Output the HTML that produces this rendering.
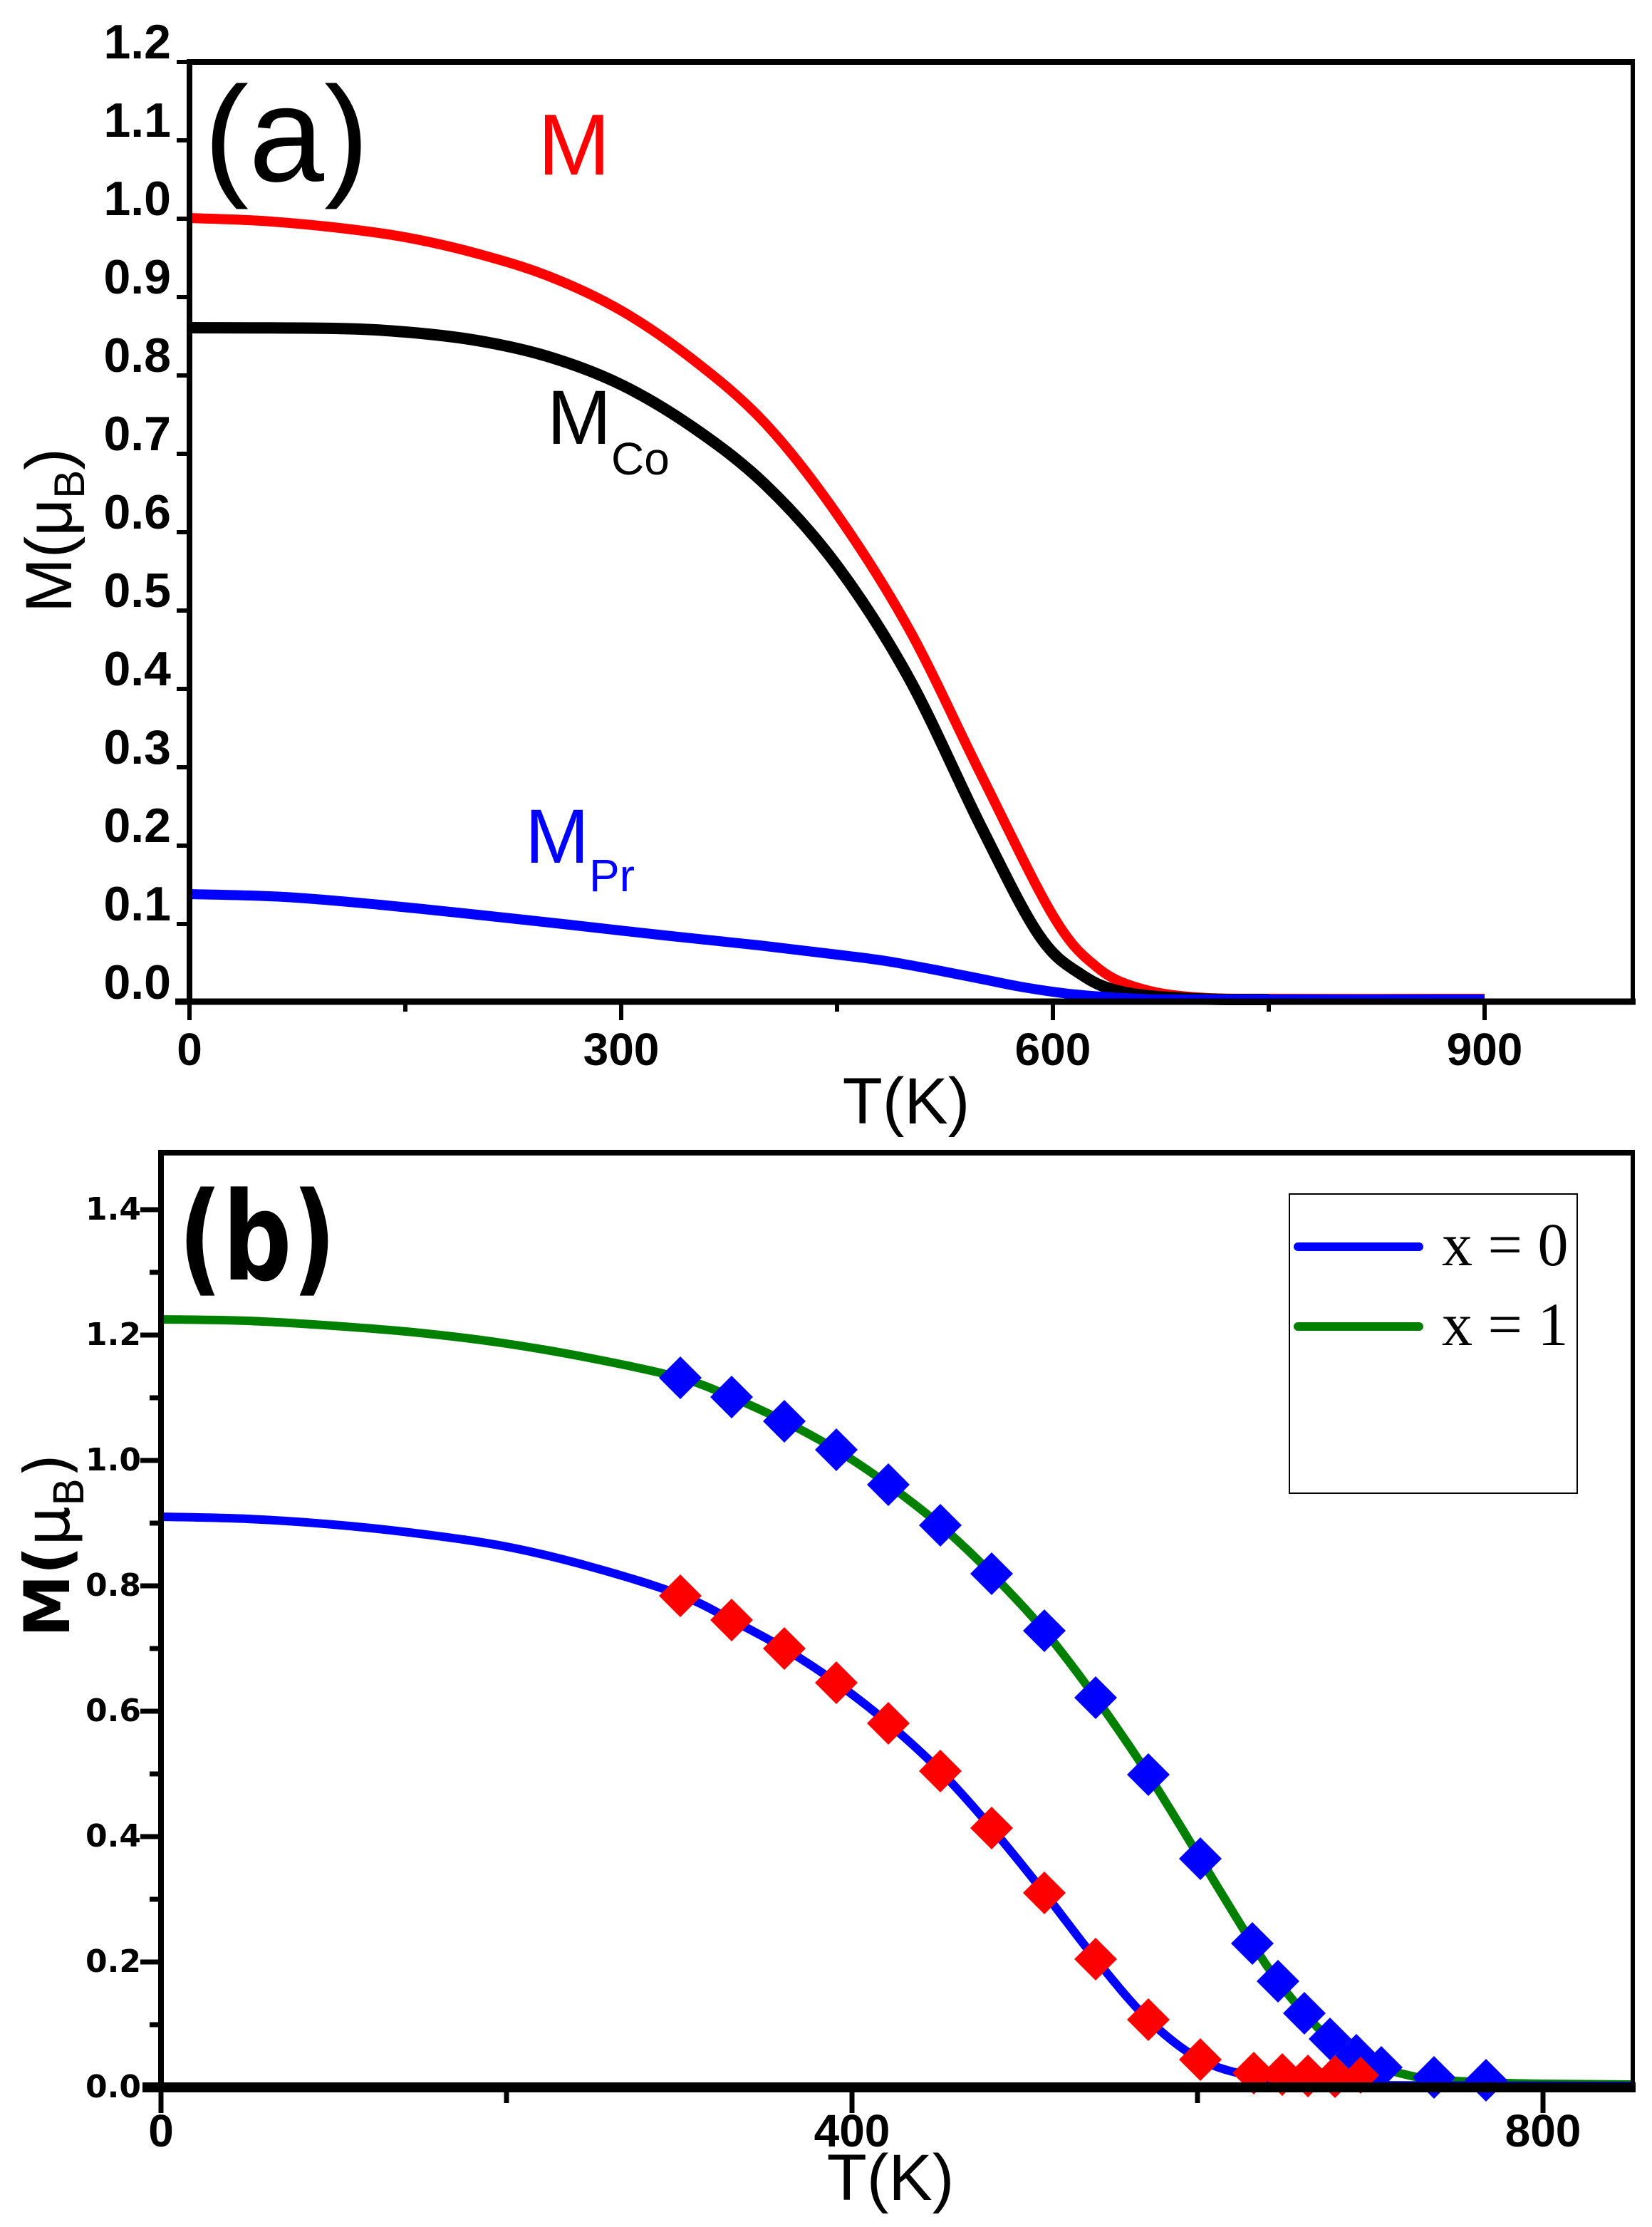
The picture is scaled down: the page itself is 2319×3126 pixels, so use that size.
<!DOCTYPE html>
<html><head><meta charset="utf-8"><style>
html,body{margin:0;padding:0;background:#fff}
svg{display:block}
</style></head><body>
<svg id="sv" width="2319" height="3126" viewBox="0 0 2319 3126" xmlns="http://www.w3.org/2000/svg">
<rect width="2319" height="3126" fill="#fff"/>
<!-- Panel (a) -->
<g fill="none" stroke-linejoin="round">
<polyline class="smooth" stroke="#ff0000" stroke-width="14" points="266,306 367,310 468,319 569,333 670,356 771,388 872,436 973,505 1074,594 1175,722 1276,883 1377,1087 1478,1285 1539,1357 1599,1387 1680,1400 1801,1402 2084,1402"/>
<polyline class="smooth" stroke="#000" stroke-width="16" points="266,460 468,461 569,466 670,478 771,501 872,540 973,600 1074,680 1175,794 1276,952 1377,1160 1458,1312 1518,1368 1579,1393 1680,1402 1781,1403"/>
<polyline class="smooth" stroke="#0000ff" stroke-width="14" points="266,1255 399,1259 533,1270 670,1284 799,1298 933,1313 1066,1327 1175,1340 1244,1349 1316,1362 1377,1374 1438,1386 1510,1396 1599,1402 1680,1403 2084,1403"/>
</g>
<g stroke="#000" fill="none">
<line x1="266" y1="87" x2="2292" y2="87" stroke-width="8"/>
<line x1="266" y1="83" x2="266" y2="1410" stroke-width="8"/>
<line x1="2292" y1="83" x2="2292" y2="1410" stroke-width="6"/>
<line x1="246" y1="1406" x2="2296" y2="1406" stroke-width="9"/>
<g stroke-width="6">
<line x1="248" y1="87" x2="266" y2="87"/><line x1="248" y1="197" x2="266" y2="197"/><line x1="248" y1="307" x2="266" y2="307"/><line x1="248" y1="417" x2="266" y2="417"/><line x1="248" y1="527" x2="266" y2="527"/><line x1="248" y1="637" x2="266" y2="637"/><line x1="248" y1="747" x2="266" y2="747"/><line x1="248" y1="857" x2="266" y2="857"/><line x1="248" y1="967" x2="266" y2="967"/><line x1="248" y1="1077" x2="266" y2="1077"/><line x1="248" y1="1187" x2="266" y2="1187"/><line x1="248" y1="1297" x2="266" y2="1297"/>
<line x1="266" y1="1406" x2="266" y2="1432"/><line x1="872" y1="1406" x2="872" y2="1432"/><line x1="1478" y1="1406" x2="1478" y2="1432"/><line x1="2084" y1="1406" x2="2084" y2="1432"/>
<line x1="569" y1="1406" x2="569" y2="1420"/><line x1="1175" y1="1406" x2="1175" y2="1420"/><line x1="1781" y1="1406" x2="1781" y2="1420"/>
</g>
</g>
<g font-family="Liberation Sans, sans-serif" font-weight="bold" font-size="68" text-anchor="end" fill="#000">
<text x="240" y="82">1.2</text><text x="240" y="192">1.1</text><text x="240" y="302">1.0</text><text x="240" y="412">0.9</text><text x="240" y="522">0.8</text><text x="240" y="632">0.7</text><text x="240" y="742">0.6</text><text x="240" y="852">0.5</text><text x="240" y="962">0.4</text><text x="240" y="1072">0.3</text><text x="240" y="1182">0.2</text><text x="240" y="1292">0.1</text><text x="240" y="1402">0.0</text>
</g>
<g font-family="Liberation Sans, sans-serif" font-weight="bold" font-size="64" text-anchor="middle" fill="#000">
<text x="266" y="1495">0</text><text x="872" y="1495">300</text><text x="1478" y="1495">600</text><text x="2084" y="1495">900</text>
</g>
<text x="1272" y="1577" font-family="Liberation Sans, sans-serif" font-size="92" text-anchor="middle">T(K)</text>
<text transform="translate(100,860) rotate(-90)" font-family="Liberation Sans, sans-serif" font-size="92">M(μ<tspan font-size="60" dy="18">B</tspan><tspan dy="-18">)</tspan></text>
<text x="286" y="254" font-family="Liberation Sans, sans-serif" font-size="190">(a)</text>
<text x="755" y="245" font-family="Liberation Sans, sans-serif" font-size="122" fill="#ff0000">M</text>
<text x="768" y="623" font-family="Liberation Sans, sans-serif" font-size="108">M<tspan font-size="64" dy="43">Co</tspan></text>
<text x="737" y="1211" font-family="Liberation Sans, sans-serif" font-size="108" fill="#0000ff">M<tspan font-size="64" dy="40">Pr</tspan></text>

<!-- Panel (b) -->
<g fill="none" stroke-linejoin="round" stroke-width="12">
<polyline class="smooth" stroke="#008000" points="226,1852 347,1854 468,1861 590,1871 711,1886 832,1907 955,1934 1027,1961 1101,1995 1174,2035 1247,2084 1320,2141 1392,2209 1466,2289 1538,2383 1612,2491 1685,2609 1758,2728 1794,2781 1831,2826 1867,2862 1904,2885 1939,2902 1973,2912 2013,2919 2086,2923 2166,2925 2292,2926"/>
<polyline class="smooth" stroke="#0000ff" points="226,2129 347,2132 468,2140 590,2153 711,2171 832,2200 953,2238 1027,2274 1101,2314 1174,2362 1247,2419 1320,2486 1392,2566 1466,2657 1538,2750 1612,2835 1685,2891 1760,2915 1830,2924 1900,2927 2292,2928"/>
</g>
<g fill="#0000ff">
<path d="M955 1904l30 30-30 30-30-30z"/><path d="M1027 1931l30 30-30 30-30-30z"/><path d="M1101 1965l30 30-30 30-30-30z"/><path d="M1174 2005l30 30-30 30-30-30z"/><path d="M1247 2054l30 30-30 30-30-30z"/><path d="M1320 2111l30 30-30 30-30-30z"/><path d="M1392 2179l30 30-30 30-30-30z"/><path d="M1466 2259l30 30-30 30-30-30z"/><path d="M1538 2353l30 30-30 30-30-30z"/><path d="M1612 2461l30 30-30 30-30-30z"/><path d="M1685 2579l30 30-30 30-30-30z"/><path d="M1758 2698l30 30-30 30-30-30z"/><path d="M1794 2751l30 30-30 30-30-30z"/><path d="M1831 2796l30 30-30 30-30-30z"/><path d="M1867 2832l30 30-30 30-30-30z"/><path d="M1904 2855l30 30-30 30-30-30z"/><path d="M1939 2872l30 30-30 30-30-30z"/><path d="M2013 2886l30 30-30 30-30-30z"/><path d="M2086 2890l30 30-30 30-30-30z"/>
</g>
<g fill="#ff0000">
<path d="M955 2210l30 30-30 30-30-30z"/><path d="M1027 2244l30 30-30 30-30-30z"/><path d="M1101 2284l30 30-30 30-30-30z"/><path d="M1174 2332l30 30-30 30-30-30z"/><path d="M1247 2389l30 30-30 30-30-30z"/><path d="M1320 2456l30 30-30 30-30-30z"/><path d="M1392 2536l30 30-30 30-30-30z"/><path d="M1466 2627l30 30-30 30-30-30z"/><path d="M1538 2720l30 30-30 30-30-30z"/><path d="M1612 2805l30 30-30 30-30-30z"/><path d="M1685 2861l30 30-30 30-30-30z"/>
<path d="M1760 2880l30 30-30 30-30-30z"/><path d="M1800 2882l30 30-30 30-30-30z"/><path d="M1836 2884l30 30-30 30-30-30z"/><path d="M1874 2885l30 30-30 30-30-30z"/><path d="M1910 2887l26 26-26 26-26-26z"/>
</g>
<g stroke="#000" fill="none">
<line x1="222" y1="1618" x2="2292" y2="1618" stroke-width="8"/>
<line x1="226" y1="1614" x2="226" y2="2936" stroke-width="8"/>
<line x1="2292" y1="1614" x2="2292" y2="2936" stroke-width="6"/>
<line x1="200" y1="2930" x2="2296" y2="2930" stroke-width="14"/>
<g stroke-width="7">
<line x1="197" y1="1698" x2="226" y2="1698"/><line x1="197" y1="1874" x2="226" y2="1874"/><line x1="197" y1="2050" x2="226" y2="2050"/><line x1="197" y1="2226" x2="226" y2="2226"/><line x1="197" y1="2402" x2="226" y2="2402"/><line x1="197" y1="2578" x2="226" y2="2578"/><line x1="197" y1="2754" x2="226" y2="2754"/>
<line x1="210" y1="1786" x2="226" y2="1786"/><line x1="210" y1="1962" x2="226" y2="1962"/><line x1="210" y1="2138" x2="226" y2="2138"/><line x1="210" y1="2314" x2="226" y2="2314"/><line x1="210" y1="2490" x2="226" y2="2490"/><line x1="210" y1="2666" x2="226" y2="2666"/><line x1="210" y1="2842" x2="226" y2="2842"/>
<line x1="226" y1="2930" x2="226" y2="2966"/><line x1="1196" y1="2930" x2="1196" y2="2966"/><line x1="2166" y1="2930" x2="2166" y2="2966"/>
<line x1="711" y1="2930" x2="711" y2="2952"/><line x1="1681" y1="2930" x2="1681" y2="2952"/>
</g>
</g>
<g font-family="DejaVu Sans, sans-serif" font-weight="bold" font-size="44" text-anchor="end" fill="#000">
<text x="198" y="1712">1.4</text><text x="198" y="1888">1.2</text><text x="198" y="2064">1.0</text><text x="198" y="2240">0.8</text><text x="198" y="2416">0.6</text><text x="198" y="2592">0.4</text><text x="198" y="2768">0.2</text><text x="198" y="2944">0.0</text>
</g>
<g font-family="Liberation Sans, sans-serif" font-weight="bold" font-size="64" text-anchor="middle" fill="#000">
<text x="226" y="3013">0</text><text x="1196" y="3013">400</text><text x="2166" y="3013">800</text>
</g>
<text x="1250" y="3088" font-family="Liberation Sans, sans-serif" font-size="92" text-anchor="middle">T(K)</text>
<text transform="translate(97,2298) rotate(-90)" font-family="DejaVu Sans, sans-serif" font-weight="bold" font-size="88">M(<tspan font-weight="normal">μ</tspan><tspan font-weight="normal" font-size="58" dy="20">B</tspan><tspan dy="-20" font-weight="normal">)</tspan></text>
<text x="250" y="1796" font-family="DejaVu Sans, sans-serif" font-weight="bold" font-size="172" textLength="222" lengthAdjust="spacingAndGlyphs">(b)</text>
<!-- Legend -->
<rect x="1810" y="1676" width="404" height="420" fill="#fff" stroke="#000" stroke-width="2"/>
<line x1="1822" y1="1750" x2="1992" y2="1750" stroke="#0000ff" stroke-width="12" stroke-linecap="round"/>
<line x1="1822" y1="1862" x2="1992" y2="1862" stroke="#008000" stroke-width="12" stroke-linecap="round"/>
<g font-family="Liberation Serif, serif" font-size="86" fill="#000">
<text x="2024" y="1776">x = 0</text><text x="2024" y="1888">x = 1</text>
</g>
</svg>
<script>
(function(){
var ns="http://www.w3.org/2000/svg";
var pls=document.querySelectorAll("polyline.smooth");
for(var k=0;k<pls.length;k++){
 var pl=pls[k];
 var raw=pl.getAttribute("points").trim().split(/\s+/);
 var p=raw.map(function(s){var a=s.split(",");return [+a[0],+a[1]];});
 var d="M"+p[0][0]+" "+p[0][1];
 for(var i=0;i<p.length-1;i++){
  var p0=p[i>0?i-1:i],p1=p[i],p2=p[i+1],p3=p[i+2<p.length?i+2:i+1];
  var c1x=p1[0]+(p2[0]-p0[0])/6,c1y=p1[1]+(p2[1]-p0[1])/6;
  var c2x=p2[0]-(p3[0]-p1[0])/6,c2y=p2[1]-(p3[1]-p1[1])/6;
  d+=" C"+c1x.toFixed(1)+" "+c1y.toFixed(1)+" "+c2x.toFixed(1)+" "+c2y.toFixed(1)+" "+p2[0]+" "+p2[1];
 }
 var path=document.createElementNS(ns,"path");
 path.setAttribute("d",d);
 ["stroke","stroke-width"].forEach(function(a){path.setAttribute(a,pl.getAttribute(a));});
 path.setAttribute("fill","none");
 pl.parentNode.replaceChild(path,pl);
}
})();
</script>
</body></html>
